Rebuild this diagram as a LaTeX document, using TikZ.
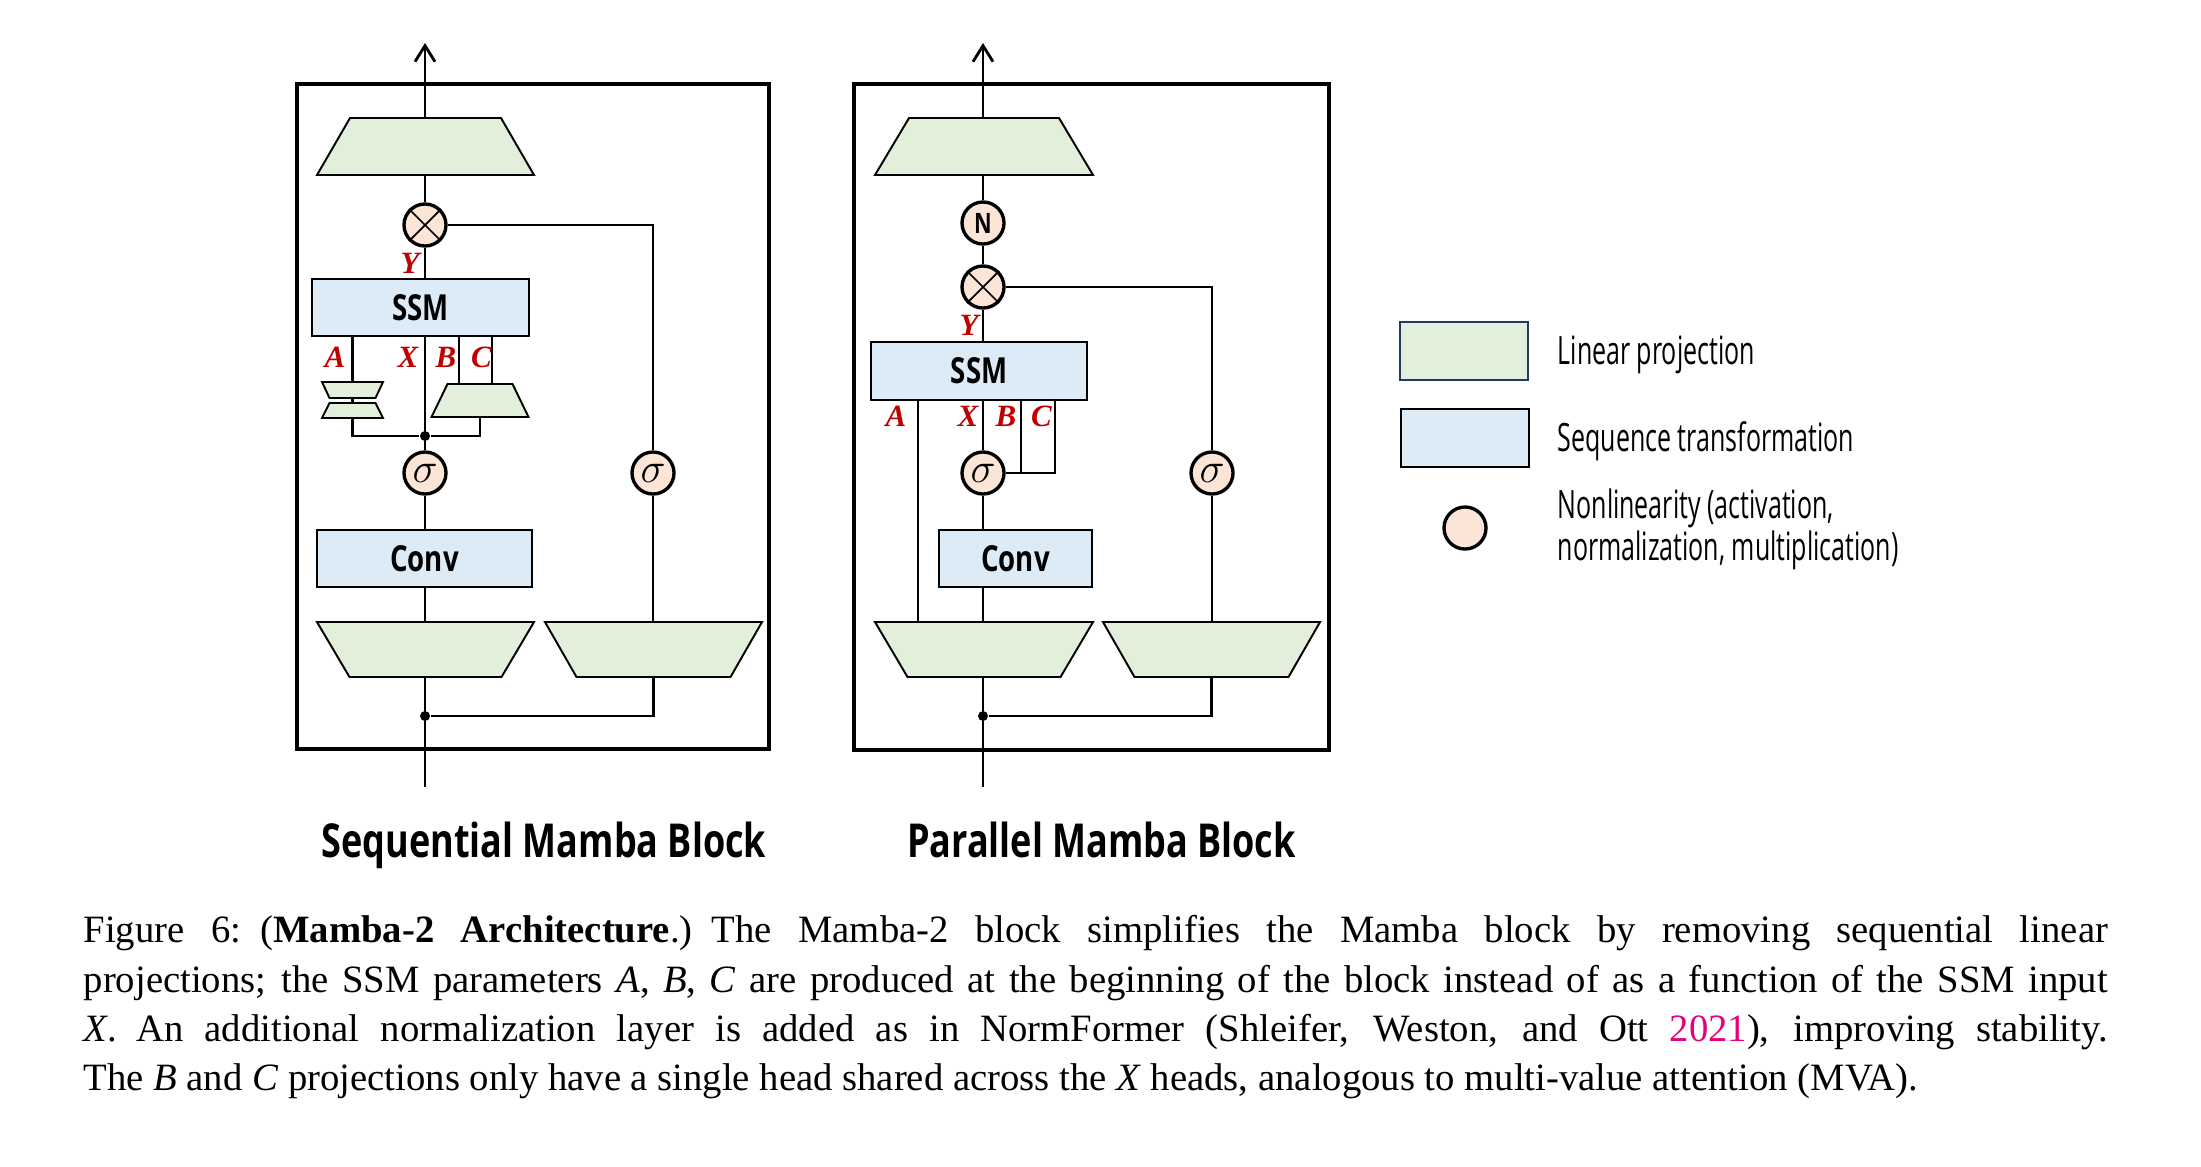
\documentclass[tikz,border=0pt]{standalone}
\usepackage{fontspec}
\setmainfont{Liberation Serif}
\newfontfamily\osc[FakeStretch=0.77]{Open Sans}
\newfontfamily\osl[FakeStretch=0.64]{Open Sans}
\usetikzlibrary{arrows.meta,calc,fit}
\definecolor{lpgreen}{RGB}{226,239,218}
\definecolor{stblue}{RGB}{221,235,247}
\definecolor{nlpeach}{RGB}{251,229,214}
\definecolor{lblred}{RGB}{192,0,0}
\definecolor{navyb}{RGB}{32,56,100}
\definecolor{citemag}{RGB}{230,0,126}
\tikzset{
  conn/.style={line width=0.8pt},
  frame/.style={draw, line width=1.2pt, inner sep=0},
  seqbox/.style={draw, line width=0.55pt, fill=stblue, inner sep=0, font=\osc\bfseries\fontsize{10.2}{12}\selectfont},
  nl/.style={circle, draw, line width=0.95pt, fill=nlpeach, minimum size=0.42cm, inner sep=0, font=\fontsize{13}{14}\selectfont},
  trapline/.style={draw, line width=0.55pt, fill=lpgreen},
  cross/.style={line width=0.5pt},
  dotn/.style={circle, fill, inner sep=0, minimum size=0.1cm},
  lbl/.style={text=lblred, font=\bfseries\itshape\fontsize{8.8}{9}\selectfont, inner sep=0},
  title/.style={font=\osc\bfseries\fontsize{13.3}{16}\selectfont, anchor=base, inner sep=0},
  legtxt/.style={font=\osl\fontsize{11.1}{13}\selectfont, anchor=base west, inner sep=0},
  outarrow/.style={conn, -{Straight Barb[length=0.16cm,width=0.2cm]}}
}
% name, cx, ytop, ybot, topw, botw
\newcommand\trapz[6]{%
  \filldraw[trapline] ({#2-#5/2},#3) -- ({#2+#5/2},#3) -- ({#2+#6/2},#4) -- ({#2-#6/2},#4) -- cycle;
  \coordinate (#1-nw) at ({#2-max(#5,#6)/2},#3);
  \coordinate (#1-se) at ({#2+max(#5,#6)/2},#4);
  \node[inner sep=0, outer sep=0, fit=(#1-nw)(#1-se)] (#1) {};
}
\begin{document}
\begin{tikzpicture}[x=0.01cm,y=-0.01cm]
\useasboundingbox (0,0) rectangle (2201,1166);

% ===== Sequential block =====
\node[frame, minimum width=4.72cm, minimum height=6.65cm] (frS) at (533,416.5) {};
\coordinate (outS) at (425,43);
\trapz{tS}{425.5}{118}{175}{151}{217}
\node[nl] (mS) at (425,225) {};
\draw[cross] (mS.north west) -- (mS.south east) (mS.north east) -- (mS.south west);
\node[seqbox, minimum width=2.17cm, minimum height=0.57cm] (ssmS) at (420.5,307.5) {SSM};
\trapz{a1S}{352.5}{382}{398}{61}{46}
\trapz{a2S}{352.5}{403}{418}{46}{61}
\trapz{bcS}{480}{384}{417}{65}{97}
\node[dotn] (jS) at (425,436) {};
\node[nl] (s1S) at (425,473) {$\sigma$};
\node[nl] (s2S) at (653,473) {$\sigma$};
\node[seqbox, minimum width=2.15cm, minimum height=0.57cm] (cvS) at (424.5,558.5) {Conv};
\trapz{lS}{425.5}{622}{677}{217}{152}
\trapz{rS}{653.5}{622}{677}{217}{154}
\node[dotn] (mgS) at (425,716) {};
\coordinate (inS) at (425,787);
\coordinate (bS) at (459,336);
\coordinate (cS) at (492,336);

\draw[outarrow] (tS.north -| outS) -- (outS);
\draw[conn] (tS.south -| mS) -- (mS.north);
\draw[conn] (mS.south) -- (ssmS.north -| mS);
\draw[conn] (mS.east) -| (s2S.north);
\draw[conn] (ssmS.south -| a1S) -- (a1S.north);
\draw[conn] (a1S.south) -- (a2S.north);
\draw[conn] (a2S.south) |- (jS);
\draw[conn] (bS) -- (bS |- bcS.north);
\draw[conn] (cS) -- (cS |- bcS.north);
\draw[conn] (bcS.south) |- (jS);
\draw[conn] (ssmS.south -| jS) -- (s1S.north);
\draw[conn] (s1S.south) -- (cvS.north -| s1S);
\draw[conn] (cvS.south -| s1S) -- (lS.north -| s1S);
\draw[conn] (s2S.south) -- (rS.north -| s2S);
\draw[conn] (inS) -- (lS.south -| inS);
\draw[conn] (mgS) -| (rS.south);

\node[lbl] (yS) at (410,263.5) {Y};
\node[lbl] (aS) at (335,357.5) {A};
\node[lbl] (xS) at (408,357.5) {X};
\node[lbl] (bLS) at (446,357.5) {B};
\node[lbl] (cLS) at (481.5,357.5) {C};

\node[title] (tiS) at (544,857) {Sequential Mamba Block};

% ===== Parallel block =====
\node[frame, minimum width=4.745cm, minimum height=6.655cm] (frP) at (1091.25,416.75) {};
\coordinate (outP) at (983,43);
\trapz{tP}{984}{118}{175}{150}{218}
\node[nl, font=\osc\bfseries\fontsize{8}{9}\selectfont] (nP) at (983,223) {N};
\node[nl] (mP) at (983,287) {};
\draw[cross] (mP.north west) -- (mP.south east) (mP.north east) -- (mP.south west);
\node[seqbox, minimum width=2.16cm, minimum height=0.58cm] (ssmP) at (979,371) {SSM};
\coordinate (aP) at (918,400);
\coordinate (bP) at (1021,400);
\coordinate (cP) at (1055,400);
\node[nl] (s1P) at (983,473) {$\sigma$};
\node[nl] (s2P) at (1212,473) {$\sigma$};
\node[seqbox, minimum width=1.53cm, minimum height=0.57cm] (cvP) at (1015.5,558.5) {Conv};
\trapz{lP}{984}{622}{677}{218}{153}
\trapz{rP}{1211.5}{622}{677}{217}{154}
\node[dotn] (mgP) at (983,716) {};
\coordinate (inP) at (983,787);

\draw[outarrow] (tP.north -| outP) -- (outP);
\draw[conn] (tP.south -| nP) -- (nP.north);
\draw[conn] (nP.south) -- (mP.north);
\draw[conn] (mP.south) -- (ssmP.north -| mP);
\draw[conn] (mP.east) -| (s2P.north);
\draw[conn] (aP) -- (aP |- lP.north);
\draw[conn] (ssmP.south -| s1P) -- (s1P.north);
\draw[conn] (bP) -- (bP |- s1P.east);
\draw[conn] (cP) |- (s1P.east);
\draw[conn] (s1P.south) -- (cvP.north -| s1P);
\draw[conn] (cvP.south -| s1P) -- (lP.north -| s1P);
\draw[conn] (s2P.south) -- (rP.north -| s2P);
\draw[conn] (inP) -- (lP.south -| inP);
\draw[conn] (mgP) -| (rP.south);

\node[lbl] (yP) at (969,325.5) {Y};
\node[lbl] (aLP) at (896,416.5) {A};
\node[lbl] (xP) at (968,416.5) {X};
\node[lbl] (bLP) at (1006,416.5) {B};
\node[lbl] (cLP) at (1041.5,416.5) {C};

\node[title] (tiP) at (1101.5,857) {Parallel Mamba Block};

% ===== Legend =====
\node[draw=navyb, line width=0.7pt, fill=lpgreen, minimum width=1.28cm, minimum height=0.58cm, inner sep=0] (lg1) at (1464,351) {};
\node[draw, line width=0.7pt, fill=stblue, minimum width=1.28cm, minimum height=0.58cm, inner sep=0] (lg2) at (1465,438) {};
\node[nl] (lg3) at (1465,528) {};
\node[legtxt] (lt1) at (1557,364) {Linear projection};
\node[legtxt] (lt2) at (1557,451) {Sequence transformation};
\node[legtxt] (lt3) at (1557,518) {Nonlinearity (activation,};
\node[legtxt] (lt4) at (1557,560) {normalization, multiplication)};

% ===== Caption =====
\node[anchor=north west, inner sep=0, text width=20.23cm, align=left,
      font=\fontsize{11}{14.03}\selectfont] (cap) at (83,907.5) {%
\spaceskip=.25em plus .5em minus .12em\xspaceskip=.35em plus .5em minus .1em
\makebox[\linewidth][s]{\strut Figure 6:\enspace(\textbf{Mamba-2 Architecture}.)\enspace The Mamba-2 block simplifies the Mamba block by removing sequential linear}\\
\makebox[\linewidth][s]{projections; the SSM parameters \textit{A}, \textit{B}, \textit{C} are produced at the beginning of the block instead of as a function of the SSM input}\\
\makebox[\linewidth][s]{\textit{X}.\enspace An additional normalization layer is added as in NormFormer (Shleifer, Weston, and Ott \textcolor{citemag}{2021}), improving stability.}\\
The \textit{B} and \textit{C} projections only have a single head shared across the \textit{X} heads, analogous to multi-value attention (MVA).};
\end{tikzpicture}
\end{document}
